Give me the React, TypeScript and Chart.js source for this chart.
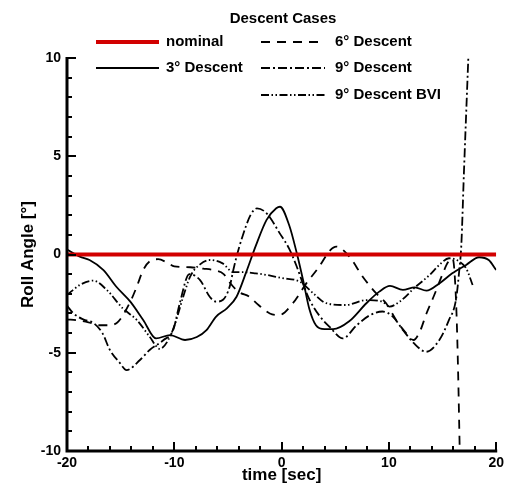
import React, { useEffect, useRef } from 'react';
import { Chart, registerables } from 'chart.js';

Chart.register(...registerables);

// ---------- data ----------
const nominalX = [-20, 20];
const nominalY = [0, 0];

const d3X = [-20, -18.8, -17.9, -16.6, -15.4, -14.1, -12.9, -11.7, -10.4, -9.0, -7.9, -7.0, -6.1, -5.1, -4.2, -3.3, -2.4, -1.4, -0.5, -0.15, 0.7, 1.4, 2.0, 2.6, 3.2, 4.0, 4.8, 6.3, 7.9, 9.1, 10.1, 11.3, 12.4, 13.5, 14.7, 15.9, 17.2, 18.4, 19.3, 20];
const d3Y = [0.25, -0.11, -0.28, -0.79, -1.64, -2.4, -3.33, -4.27, -4.1, -4.35, -4.2, -3.85, -3.16, -2.74, -2.15, -0.9, 0.45, 1.76, 2.35, 2.43, 1.5, 0.1, -1.3, -2.8, -3.6, -3.8, -3.8, -3.4, -2.48, -1.89, -1.6, -1.8, -1.67, -1.84, -1.47, -0.96, -0.53, -0.14, -0.28, -0.79];

const d6X = [-20, -19, -18, -17, -16, -15.2, -14.1, -13.5, -12.9, -12.3, -11.5, -10.7, -10, -8.5, -7.3, -6.3, -5.4, -4.8, -4.0, -3.0, -2.4, -1.1, -0.2, 1.05, 2.3, 3.5, 4.5, 5.1, 6.3, 7.56, 8.8, 9.74, 10.67, 11.6, 12.3, 12.9, 13.5, 14.2, 15.0, 15.5, 15.93, 16.1, 16.3, 16.45, 16.6];
const d6Y = [-3.3, -3.35, -3.45, -3.6, -3.6, -3.4, -2.4, -1.64, -0.79, -0.35, -0.24, -0.4, -0.6, -0.65, -0.72, -0.8, -1.0, -1.45, -1.9, -2.15, -2.45, -3.0, -3.08, -2.48, -1.47, -0.62, 0.2, 0.4, -0.1, -1.13, -1.97, -2.48, -3.33, -4.0, -4.35, -3.9, -3.0, -2.1, -1.0, -0.4, -0.2, -0.8, -3.0, -6.0, -10];

const d9X = [-20, -19.4, -18.5, -17.5, -16.7, -16, -15.1, -14.45, -13.2, -12.3, -11.0, -10.1, -9.5, -8.6, -7.6, -6.7, -6.1, -5.46, -4.84, -4.5, -4.2, -3.75, -2.9, -2.3, -1.6, -1.1, -0.2, 0.7, 1.4, 2.0, 2.6, 3.5, 4.5, 5.7, 7.0, 8.2, 9.4, 10.36, 11.3, 12.3, 13.46, 14.7, 15.6, 16.25, 16.56, 16.75, 17.0, 17.4];
const d9Y = [-2.6, -3.0, -3.3, -3.5, -4.0, -4.86, -5.5, -5.88, -5.37, -4.86, -4.35, -3.84, -2.5, -1.0, -1.3, -2.15, -2.4, -2.3, -1.64, -0.79, -0.11, 0.74, 2.0, 2.35, 2.2, 1.9, 1.1, 0.3, -0.6, -1.5, -2.3, -3.1, -3.7, -4.27, -3.6, -3.1, -2.9, -3.16, -3.84, -4.5, -4.95, -4.35, -3.33, -2.3, -0.79, 0.5, 4.3, 10];

const bviX = [-20, -18.8, -17.55, -16.3, -14.8, -13.5, -12.3, -11.35, -10.4, -9.8, -9.2, -8.5, -7.6, -6.7, -5.5, -4.5, -3.6, -2.4, -1.4, 0, 1.67, 3.0, 4.16, 6.0, 7.88, 9.4, 10.05, 11.0, 12.5, 13.8, 14.7, 15.6, 16.6, 17.2, 17.8];
const bviY = [-2.06, -1.55, -1.33, -1.8, -2.74, -3.33, -4.18, -4.8, -4.18, -3.3, -2.2, -1.1, -0.5, -0.28, -0.45, -0.9, -0.9, -0.96, -1.04, -1.2, -1.38, -2.0, -2.48, -2.57, -2.32, -2.4, -2.65, -2.4, -1.64, -1.04, -0.53, -0.19, -0.37, -0.7, -1.55];

const seriesLabels = ['nominal', '3\u00B0 Descent', '6\u00B0 Descent', '9\u00B0 Descent', '9\u00B0 Descent BVI'];
const legendTitle = 'Descent Cases';
const xTitle = 'time [sec]';
const yTitle = 'Roll Angle [\u00B0]';
const xMin = -20, xMax = 20, xMajor = 10, xMinor = 2;
const yMin = -10, yMax = 10, yMajor = 5, yMinor = 1;

const FONT = '"Liberation Sans", Arial, Helvetica, sans-serif';

function zip(xs: number[], ys: number[]) {
  return xs.map((x, i) => ({ x, y: ys[i] }));
}

const axesPlugin = {
  id: 'inwardAxes',
  afterDatasetsDraw(chart: any) {
    const { ctx, chartArea, scales } = chart;
    const xs = scales.x, ys = scales.y;
    ctx.save();
    ctx.strokeStyle = '#000';
    ctx.lineCap = 'butt';
    // ticks
    ctx.lineWidth = 2;
    for (let v = xMin; v <= xMax + 1e-9; v += xMinor) {
      const p = Math.round(xs.getPixelForValue(v));
      const major = Math.abs(v % xMajor) < 1e-9;
      const len = major ? 9 : 5;
      ctx.beginPath();
      ctx.moveTo(p, chartArea.bottom);
      ctx.lineTo(p, chartArea.bottom - len);
      ctx.stroke();
    }
    for (let v = yMin; v <= yMax + 1e-9; v += yMinor) {
      const p = Math.round(ys.getPixelForValue(v));
      const major = Math.abs(v % yMajor) < 1e-9;
      const len = major ? 9 : 5;
      ctx.beginPath();
      ctx.moveTo(chartArea.left, p);
      ctx.lineTo(chartArea.left + len, p);
      ctx.stroke();
    }
    // axis lines
    ctx.lineWidth = 3;
    ctx.beginPath();
    ctx.moveTo(chartArea.left, chartArea.top - 1);
    ctx.lineTo(chartArea.left, chartArea.bottom);
    ctx.lineTo(chartArea.right + 1, chartArea.bottom);
    ctx.stroke();
    ctx.restore();
  },
};

const legendPlugin = {
  id: 'customLegend',
  afterDraw(chart: any) {
    const { ctx } = chart;
    const slots = [
      { lx: 96, lw: 63, tx: 166, y: 42 },
      { lx: 96, lw: 63, tx: 166, y: 68 },
      { lx: 261, lw: 64, tx: 335, y: 42 },
      { lx: 261, lw: 64, tx: 335, y: 68 },
      { lx: 261, lw: 64, tx: 335, y: 95 },
    ];
    ctx.save();
    ctx.fillStyle = '#000';
    ctx.font = `bold 15px ${FONT}`;
    ctx.textAlign = 'center';
    ctx.textBaseline = 'middle';
    ctx.fillText(legendTitle, 283, 19);
    ctx.textAlign = 'left';
    chart.data.datasets.forEach((ds: any, i: number) => {
      const s = slots[i];
      ctx.save();
      ctx.strokeStyle = ds.borderColor;
      ctx.lineWidth = ds.borderWidth;
      ctx.setLineDash(ds.borderDash || []);
      ctx.beginPath();
      ctx.moveTo(s.lx, s.y);
      ctx.lineTo(s.lx + s.lw, s.y);
      ctx.stroke();
      ctx.restore();
      ctx.fillText(ds.label, s.tx, s.y);
    });
    ctx.restore();
  },
};

export default function App() {
  const ref = useRef<HTMLCanvasElement>(null);
  useEffect(() => {
    const canvas = ref.current;
    if (!canvas) return;
    const base = { showLine: true, pointRadius: 0, pointHoverRadius: 0, fill: false, cubicInterpolationMode: 'monotone' };
    const datasets: any[] = [
      { ...base, label: seriesLabels[0], data: zip(nominalX, nominalY), borderColor: '#d20000', borderWidth: 4, borderDash: [] },
      { ...base, label: seriesLabels[1], data: zip(d3X, d3Y), borderColor: '#000', borderWidth: 1.8, borderDash: [] },
      { ...base, label: seriesLabels[2], data: zip(d6X, d6Y), borderColor: '#000', borderWidth: 1.8, borderDash: [9, 7] },
      { ...base, label: seriesLabels[3], data: zip(d9X, d9Y), borderColor: '#000', borderWidth: 1.8, borderDash: [9, 3, 2, 3] },
      { ...base, label: seriesLabels[4], data: zip(bviX, bviY), borderColor: '#000', borderWidth: 1.8, borderDash: [8, 2.5, 1.5, 2.5, 1.5, 2.5] },
    ];
    const tickFont = { family: FONT, size: 14, weight: 'bold' as const };
    const titleFont = { family: FONT, size: 17, weight: 'bold' as const };
    const chart = new Chart(canvas, {
      type: 'scatter',
      data: { datasets },
      options: {
        responsive: false,
        animation: false,
        devicePixelRatio: 1,
        layout: { padding: { left: 0, top: 58, right: 11, bottom: 0 } },
        plugins: { legend: { display: false }, tooltip: { enabled: false }, title: { display: false } },
        events: [],
        scales: {
          x: {
            type: 'linear',
            min: xMin,
            max: xMax,
            grid: { display: false, drawTicks: false },
            border: { display: false },
            ticks: { stepSize: xMajor, color: '#000', font: tickFont, padding: 4, maxRotation: 0 },
            title: { display: true, text: xTitle, color: '#000', font: titleFont, padding: { top: 0, bottom: 4 } },
            afterFit: (s: any) => { s.height = 39; },
          },
          y: {
            type: 'linear',
            min: yMin,
            max: yMax,
            grid: { display: false, drawTicks: false },
            border: { display: false },
            ticks: { stepSize: yMajor, color: '#000', font: tickFont, padding: 6 },
            title: { display: true, text: yTitle, color: '#000', font: titleFont, padding: { top: 18, bottom: 0 } },
            afterFit: (s: any) => { s.width = 67; },
          },
        },
      },
      plugins: [axesPlugin, legendPlugin],
    } as any);
    return () => chart.destroy();
  }, []);
  return (
    <div style={{ position: 'fixed', left: 0, top: 0, width: 508, height: 490, background: '#fff' }}>
      <canvas ref={ref} width={508} height={490} style={{ display: 'block', width: 508, height: 490 }} />
    </div>
  );
}
